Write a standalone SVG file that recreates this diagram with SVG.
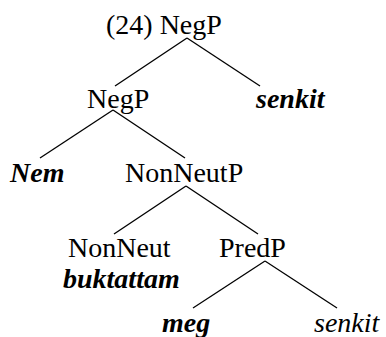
<svg xmlns="http://www.w3.org/2000/svg" width="386" height="337" viewBox="0 0 386 337" font-family="'Liberation Serif', Tinos, 'Times New Roman', Times, 'DejaVu Serif', serif">
<style>
text{font-family:'Liberation Serif',Tinos,'Times New Roman',Times,'DejaVu Serif',serif;font-size:28px;fill:#000}
.bi{font-weight:bold;font-style:italic}
.i{font-style:italic}
.edge{stroke:#000;stroke-width:1.3;fill:none}
</style>
<rect width="386" height="337" fill="#fff"/>
<g id="connectors">
<line class="edge" x1="187" y1="38" x2="115" y2="86"/>
<line class="edge" x1="187" y1="38" x2="260" y2="86"/>
<line class="edge" x1="113" y1="110" x2="40" y2="158"/>
<line class="edge" x1="113" y1="110" x2="185" y2="158"/>
<line class="edge" x1="186" y1="186" x2="114" y2="234"/>
<line class="edge" x1="186" y1="186" x2="258" y2="234"/>
<line class="edge" x1="265" y1="261" x2="193" y2="308"/>
<line class="edge" x1="265" y1="261" x2="337" y2="308"/>
</g>
<g id="n-root"><text x="106" y="34">(24) NegP</text></g>
<g id="n-negp"><text x="87" y="108">NegP</text></g>
<g id="n-senkit1"><text class="bi" x="256" y="108">senkit</text></g>
<g id="n-nem"><text class="bi" x="10" y="182">Nem</text></g>
<g id="n-nonneutp"><text x="125" y="182">NonNeutP</text></g>
<g id="n-nonneut"><text x="68" y="257">NonNeut</text><text class="bi" x="63" y="288">buktattam</text></g>
<g id="n-predp"><text x="219" y="257">PredP</text></g>
<g id="n-meg"><text class="bi" x="162" y="332">meg</text></g>
<g id="n-senkit2"><text class="i" x="314" y="332">senkit</text></g>
</svg>
